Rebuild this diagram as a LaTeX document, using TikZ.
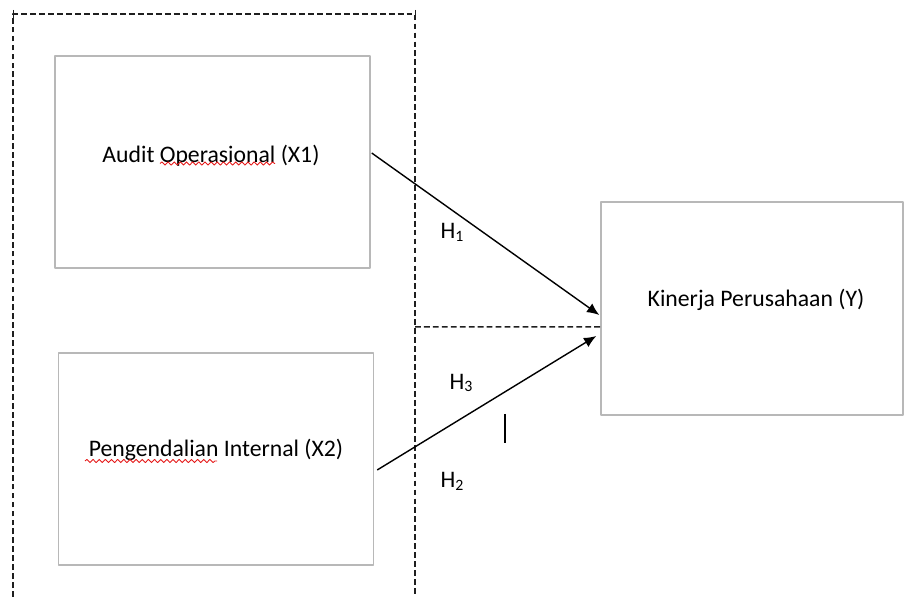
\documentclass[tikz,border=0pt]{standalone}
\usepackage{fontspec}
\setmainfont{Carlito}
\usetikzlibrary{arrows.meta,calc,decorations.pathmorphing}
\definecolor{boxgray}{rgb}{0.72,0.72,0.72}
\definecolor{dashgray}{rgb}{0.12,0.12,0.12}
\definecolor{spellred}{rgb}{0.9,0.1,0.1}
\newcommand{\hsub}[1]{\raisebox{-0.25ex}{\fontsize{9}{10}\selectfont #1}}
\tikzset{
  varbox/.style={draw=boxgray,line width=0.8pt,minimum width=315*0.02cm,minimum height=212*0.02cm,inner sep=0pt},
  vartext/.style={font=\fontsize{13.5}{16}\selectfont,inner sep=0pt},
  hyptext/.style={font=\fontsize{13.5}{16}\selectfont,inner sep=0pt},
  frameline/.style={line width=0.85pt,color=dashgray,dash pattern=on 3.3pt off 1.8pt},
  spellline/.style={spellred,line width=0.5pt,decorate,decoration={snake,segment length=3.5,amplitude=0.9}}
}

\begin{document}
\begin{tikzpicture}[line cap=butt,line join=round,>={Latex[length=7pt,width=6pt]},
			x=0.02cm,y=-0.02cm]
			\useasboundingbox (0,0) rectangle (904,597);
			% dashed frame round X1 and X2
			\draw [frameline] (13,597)-- (13,14)-- (415,14)-- (415,597);
			\draw [line width=0.5pt,color=dashgray] (13,10)-- (13,18);
			\draw [line width=0.5pt,color=dashgray] (415,10)-- (415,18);
			% variables
			\node [varbox] (audit) at (212.5,162) {};
			\node [varbox] (pengend) at (216,459) {};
			\node [varbox,minimum width=302*0.02cm,minimum height=213*0.02cm] (kinerja) at (752,308.5) {};
			\node [vartext] (audittxt) at (211,156) {Audit Operasional (X1)};
			\node [vartext] (pengendtxt) at (216,450) {Pengendalian Internal (X2)};
			\node [vartext] (kinerjatxt) at (756,300) {Kinerja Perusahaan (Y)};
			\draw [spellline] (160,163.5)-- (275,163.5);
			\draw [spellline] (85,461)-- (217,461);
			% hypotheses
			\draw [frameline] (415,327)-- ($(kinerja.west)+(0,18.5)$);
			\draw [line width=0.8pt,->] ($(audit.east)+(1,-9)$)-- ($(kinerja.west)+(-1,6.5)$);
			\draw [line width=0.8pt,->] ($(pengend.east)+(3,11)$)-- ($(kinerja.west)+(-4,27.5)$);
			\node [hyptext] (h1) at (452,232) {H\hsub{1}};
			\node [hyptext] (h3) at (461,383) {H\hsub{3}};
			\node [hyptext] (h2) at (452,481) {H\hsub{2}};
			\draw [line width=0.6pt] (505,414)-- (505,443);
\end{tikzpicture}
\end{document}
